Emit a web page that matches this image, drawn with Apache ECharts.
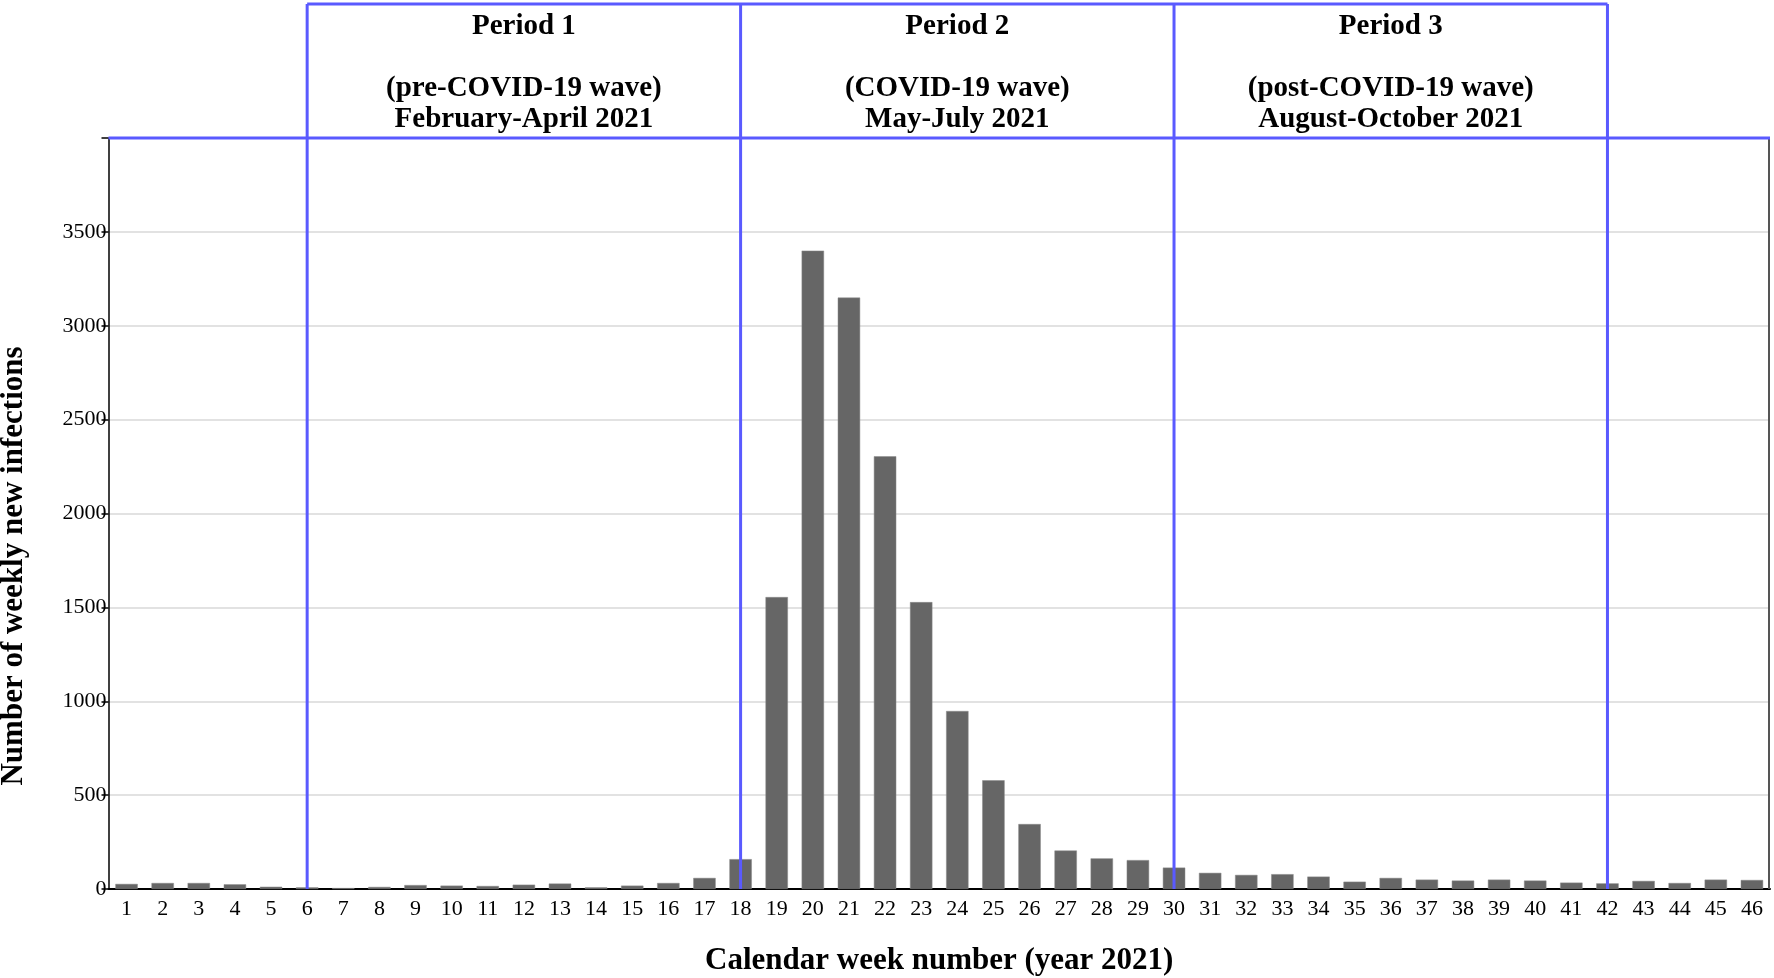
<!DOCTYPE html>
<html><head><meta charset="utf-8">
<script src="https://cdn.jsdelivr.net/npm/echarts@6/dist/echarts.min.js"></script>
<style>html,body{margin:0;padding:0;background:#fff}#c{width:1774px;height:978px}</style>
</head><body><div id="c"></div>
<script>
const weeks = ['1','2','3','4','5','6','7','8','9','10','11','12','13','14','15','16','17','18','19','20','21','22','23','24','25','26','27','28','29','30','31','32','33','34','35','36','37','38','39','40','41','42','43','44','45','46'];
const infections = [27,32,32,25,12,9,5,11,21,18,16,23,29,9,18,32,59,159,1555,3400,3150,2305,1528,948,579,346,205,163,154,114,86,75,79,66,39,59,50,45,50,45,34,30,43,32,50,48];
const yMin = 0, yMax = 4000, yStep = 500;
const boundaryWeeks = ['6','18','30','42'];
const periodTexts = [
  'Period 1\n\n(pre-COVID-19 wave)\nFebruary-April 2021',
  'Period 2\n\n(COVID-19 wave)\nMay-July 2021',
  'Period 3\n\n(post-COVID-19 wave)\nAugust-October 2021'
];
const xTitle = 'Calendar week number (year 2021)';
const yTitle = 'Number of weekly new infections';

const FONT = '"Liberation Serif","Times New Roman",serif';
const BLUE = 'rgb(90,90,255)';
const chart = echarts.init(document.getElementById('c'));
chart.setOption({
  animation: false,
  backgroundColor: '#fff',
  grid: {left: 108.5, right: 4, top: 138, bottom: 89, containLabel: false, outerBoundsMode: 'none'},
  xAxis: {
    type: 'category', data: weeks,
    axisLine: {lineStyle: {color: '#000', width: 2}},
    axisTick: {alignWithLabel: true, length: 8, lineStyle: {color: '#000', width: 1.5}},
    axisLabel: {color: '#000', fontFamily: FONT, fontSize: 22, margin: 9, interval: 0},
    name: xTitle, nameLocation: 'middle', nameGap: 56,
    nameTextStyle: {color: '#000', fontFamily: FONT, fontSize: 31, fontWeight: 'bold'}
  },
  yAxis: {
    type: 'value', min: yMin, max: yMax, interval: yStep,
    axisLine: {show: true, lineStyle: {color: '#000', width: 1.5}},
    axisTick: {show: true, length: 7, lineStyle: {color: '#000', width: 1.5}},
    axisLabel: {color: '#000', fontFamily: FONT, fontSize: 22, margin: 2,
      formatter: v => v === yMax ? '' : String(v)},
    splitLine: {lineStyle: {color: '#d9d9d9', width: 1.5}}
  },
  series: [{
    type: 'bar', data: infections, barWidth: '62%',
    itemStyle: {color: '#666666', borderColor: '#8a8a8a', borderWidth: 0.5}
  }]
});

function px(week, val) { return chart.convertToPixel({xAxisIndex: 0, yAxisIndex: 0}, [week, val]); }
const zero = px('1', 0)[1];
const top4000 = px('1', yMax)[1];
const boxTop = 4;
const leftX = 108.5, rightX = 1774 - 4;
const xs = boundaryWeeks.map(w => px(w, 0)[0]);
const g = [];
g.push({type: 'line', shape: {x1: rightX - 1, y1: top4000, x2: rightX - 1, y2: zero}, style: {stroke: '#555', lineWidth: 2}, z: 50});
g.push({type: 'line', shape: {x1: leftX, y1: top4000, x2: rightX, y2: top4000}, style: {stroke: BLUE, lineWidth: 3}, z: 60});
g.push({type: 'line', shape: {x1: xs[0], y1: boxTop, x2: xs[xs.length - 1], y2: boxTop}, style: {stroke: BLUE, lineWidth: 3}, z: 60});
xs.forEach(x => g.push({type: 'line', shape: {x1: x, y1: boxTop, x2: x, y2: zero}, style: {stroke: BLUE, lineWidth: 3}, z: 60}));
periodTexts.forEach((t, i) => {
  g.push({type: 'text', x: (xs[i] + xs[i + 1]) / 2, y: 11, z: 70,
    style: {text: t, fill: '#000', font: 'bold 29px ' + FONT, align: 'center', verticalAlign: 'top', lineHeight: 31}});
});
g.push({type: 'text', x: 14, y: 566, rotation: Math.PI / 2, z: 70,
  style: {text: yTitle, fill: '#000', font: 'bold 31px ' + FONT, align: 'center', verticalAlign: 'middle'}});
chart.setOption({graphic: g});
</script></body></html>
